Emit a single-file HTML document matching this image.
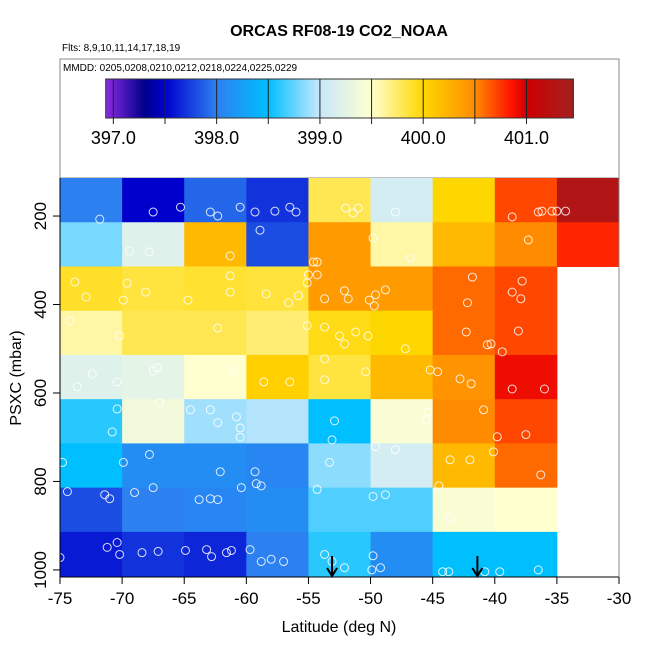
<!DOCTYPE html>
<html><head><meta charset="utf-8">
<style>
html,body{margin:0;padding:0;background:#fff;}
svg{display:block;font-family:"Liberation Sans",sans-serif;}
</style></head>
<body>
<svg id="chart" width="650" height="650" viewBox="0 0 650 650">
  <text x="339" y="36" text-anchor="middle" font-size="16" font-weight="bold">ORCAS RF08-19 CO2_NOAA</text>
  <text x="62" y="51" font-size="10">Flts: 8,9,10,11,14,17,18,19</text>
  <rect x="60" y="59" width="559" height="119" fill="none" stroke="#888" stroke-width="1"/>
  <text x="63" y="71" font-size="10">MMDD: 0205,0208,0210,0212,0218,0224,0225,0229</text>
  <g id="colorbar"></g>
  <g id="cells"></g>
  <g id="points"></g>
  <g id="arrows"></g>
  <g id="axes"></g>
  <text x="339" y="632" text-anchor="middle" font-size="16">Latitude (deg N)</text>
  <text transform="translate(21,378) rotate(-90)" text-anchor="middle" font-size="16">PSXC (mbar)</text>
</svg>
<script>
const latBins = [-75,-70,-65,-60,-55,-50,-45,-40,-35];
const presBins = [114,214,314,414,514,614,714,814,914];
const cellValues = [
 [398.0,397.5,397.9,397.7,399.8,399.1,400.0,400.7,401.3],
 [398.8,399.2,400.2,397.8,400.4,399.6,400.2,400.5,400.8],
 [399.9,399.85,399.88,399.86,400.4,400.4,400.6,400.7,null],
 [399.6,399.8,399.8,399.72,399.95,400.0,400.6,400.7,null],
 [399.2,399.25,399.5,400.05,399.85,400.2,400.45,400.9,null],
 [398.6,399.38,398.9,398.95,398.5,399.45,400.5,400.7,null],
 [398.5,398.1,398.1,398.05,398.85,399.1,400.2,400.6,null],
 [397.8,398.0,398.05,398.1,398.7,398.7,399.45,399.5,null],
 [397.6,397.7,397.65,398.0,398.6,398.1,398.5,398.5,null]
];
const ptLat = [-71.8,-67.5,-65.3,-62.9,-62.3,-60.5,-59.3,-57.7,-56.5,-56,-52,-51,-51.4,-48,-38.6,-36.5,-36.2,-35.4,-35,-34.3,
 -69.4,-67.8,-61.3,-58.9,-49.8,-46.8,-37.3,
 -73.8,-72.9,-69.6,-69.9,-68.1,-64.7,-61.3,-61.3,-58.4,-56.6,-55.8,-55.1,-54.6,-54.3,-55,-54.3,-53.7,-52.1,-51.8,-50.1,-49.6,-49.7,-48.8,-42.2,-41.8,-38.6,-37.9,-37.8,
 -74.2,-70.2,-62.3,-55.1,-53.7,-52.5,-52.1,-51.2,-50.2,-47.2,-42.3,-40.6,-40.3,-39.4,-38.1,
 -72.4,-73.6,-70.4,-67.2,-67.5,-61,-58.6,-56.5,-53.7,-53.7,-50.4,-45.2,-44.6,-42.8,-41.9,-38.6,-36,
 -70.4,-70.8,-67,-64.5,-62.9,-62.3,-60.8,-60.5,-60.5,-52.9,-53.1,-45.4,-45.5,-40.9,-39.8,-37.5,
 -74.8,-69.9,-67.8,-62.1,-59.3,-53.3,-49.6,-48,-43.6,-42,-40.1,-36.3,
 -74.4,-71.4,-71,-69,-67.5,-63.8,-62.9,-62.3,-60.4,-59.2,-58.8,-54.3,-49.8,-48.8,-44.5,-43.6,
 -75,-71.2,-70.4,-70.2,-68.4,-67.1,-64.9,-63.2,-62.8,-61.6,-61.2,-59.7,-58.8,-58,-57,-53.7,-53.1,-52.1,-49.8,-49.9,-49.2,-44.2,-43.7,-40.8,-39.6,-36.5];
const ptPres = [207,191,180,191,200,180,191,189,180,191,182,182,193,191,202,191,189,189,189,189,
 279,281,290,232,250,295,254,
 349,383,352,390,372,390,335,372,376,396,380,351,304,304,333,333,387,369,387,390,378,403,367,396,338,372,387,347,
 437,471,453,448,451,471,489,462,471,500,462,491,489,507,460,
 557,586,575,543,550,550,575,575,523,570,552,548,552,568,579,591,591,
 636,688,622,638,638,667,654,679,700,663,706,643,661,638,699,694,
 757,757,739,778,778,757,721,728,751,751,733,785,
 823,830,839,825,814,841,839,841,814,805,810,818,834,830,810,883,
 972,949,938,965,961,958,956,954,970,961,956,954,981,976,981,965,981,995,968,1000,995,1004,1004,1004,1004,1000];
const arrowLat = [-53.1,-41.4];
const xTicks = [-75,-70,-65,-60,-55,-50,-45,-40,-35,-30];
const yTicks = [200,400,600,800,1000];
const cbTicks = [397.0,398.0,399.0,400.0,401.0];

const NS="http://www.w3.org/2000/svg";
function mk(tag,attrs,parent){const e=document.createElementNS(NS,tag);for(const k in attrs)e.setAttribute(k,attrs[k]);parent.appendChild(e);return e;}
const X0=60,X1=619,Y0=178,Y1=577;
const xMin=-75,xMax=-30,yMin=114,yMax=1016;
const xs=v=>X0+(v-xMin)/(xMax-xMin)*(X1-X0);
const ys=v=>Y0+(v-yMin)/(yMax-yMin)*(Y1-Y0);
const stops=[[396.93,[138,43,226]],[397.3,[0,0,139]],[397.5,[0,0,205]],[398.0,[45,128,240]],[398.5,[0,191,255]],[399.0,[200,232,252]],[399.5,[255,255,208]],[400.0,[255,215,0]],[400.5,[255,140,0]],[400.85,[255,20,0]],[401.0,[205,0,0]],[401.45,[165,32,32]]];
function col(v){
 if(v<=stops[0][0])return `rgb(${stops[0][1]})`;
 for(let i=1;i<stops.length;i++){if(v<=stops[i][0]){const a=stops[i-1],b=stops[i];const t=(v-a[0])/(b[0]-a[0]);
  const c=a[1].map((x,j)=>Math.round(x+(b[1][j]-x)*t));return `rgb(${c})`;}}
 return `rgb(${stops[stops.length-1][1]})`;}
const cb=document.getElementById('colorbar');
const CB0=105.7,CB1=573.3,cbMin=396.926,cbMax=401.453;
const cx=v=>CB0+(v-cbMin)/(cbMax-cbMin)*(CB1-CB0);
for(let i=0;i<200;i++){const v0=cbMin+(cbMax-cbMin)*i/200,v1=cbMin+(cbMax-cbMin)*(i+1)/200;
 const r=mk('rect',{x:cx(v0),y:79,width:cx(v1)-cx(v0)+0.6,height:39,fill:col((v0+v1)/2)},cb);
 
 }
mk('rect',{x:CB0,y:79,width:CB1-CB0,height:39,fill:'none',stroke:'#333','stroke-width':1},cb);
for(let v=397.0;v<=401.01;v+=0.5){const l=mk('line',{x1:cx(v),x2:cx(v),y1:79,y2:124,stroke:'#222','stroke-width':1},cb);
 
 }
cbTicks.forEach(v=>{const t=mk('text',{x:cx(v),y:144,'text-anchor':'middle','font-size':18},cb);t.textContent=v.toFixed(1);
 
 });
const cg=document.getElementById('cells');
cellValues.forEach((row,ri)=>row.forEach((v,ci)=>{if(v===null)return;
 const r=mk('rect',{x:xs(latBins[ci]),y:ys(presBins[ri]),width:xs(latBins[ci]+5)-xs(latBins[ci])+0.5,height:ys(presBins[ri]+100)-ys(presBins[ri])+0.5,fill:col(v)},cg);
 
 }));
const pg=document.getElementById('points');
ptLat.forEach((la,i)=>{const c=mk('circle',{cx:xs(la),cy:ys(ptPres[i]),r:4,fill:'none',stroke:'rgba(255,255,255,0.85)','stroke-width':1},pg);
 
 });
const ag=document.getElementById('arrows');
arrowLat.forEach(la=>{const x=xs(la);const g=mk('g',{},ag);
 
 
 mk('line',{x1:x,x2:x,y1:556,y2:575,stroke:'#000','stroke-width':2},g);
 mk('polyline',{points:`${x-5},${568} ${x},${576} ${x+5},${568}`,fill:'none',stroke:'#000','stroke-width':2},g);});
const ax=document.getElementById('axes');
mk('line',{x1:X0,x2:X0,y1:Y0,y2:Y1,stroke:'#000'},ax);
mk('line',{x1:X0,x2:X1,y1:Y1,y2:Y1,stroke:'#000'},ax);
mk('line',{x1:X1,x2:X1,y1:Y0,y2:Y1,stroke:'#888'},ax);
xTicks.forEach(v=>{const x=xs(v);mk('line',{x1:x,x2:x,y1:Y1,y2:Y1+7,stroke:'#000'},ax);
 const t=mk('text',{x:x,y:604,'text-anchor':'middle','font-size':17},ax);t.textContent=v;
 
 });
yTicks.forEach(v=>{const y=ys(v);mk('line',{x1:X0-7,x2:X0,y1:y,y2:y,stroke:'#000'},ax);
 const t=mk('text',{transform:`translate(46,${y}) rotate(-90)`,'text-anchor':'middle','font-size':17},ax);t.textContent=v;
 
 });
</script>
</body></html>
